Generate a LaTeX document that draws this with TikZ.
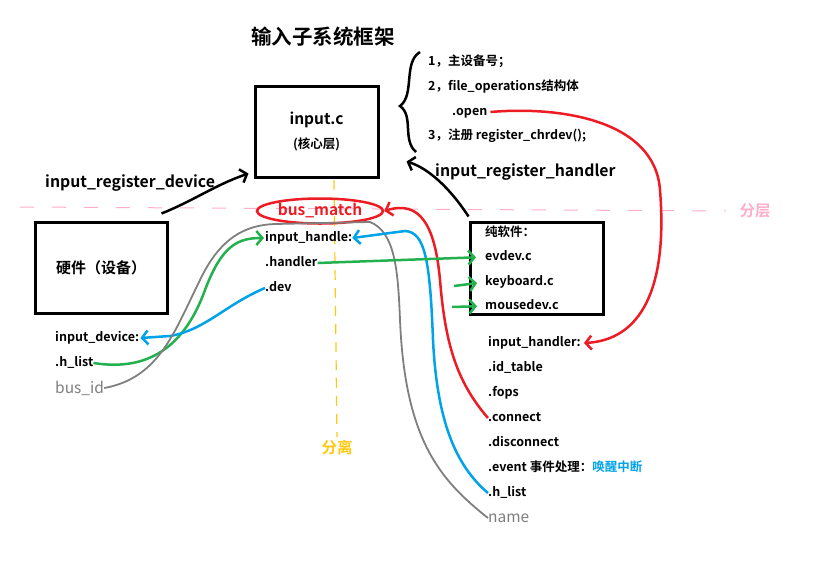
\documentclass[tikz,border=0pt]{standalone}
\usepackage{fontspec}
\setmainfont{Noto Sans CJK SC}[BoldFont={Noto Sans CJK SC Bold}]
\usetikzlibrary{arrows.meta,positioning,shapes.geometric}
\definecolor{pred}{RGB}{237,28,36}
\definecolor{pgreen}{RGB}{34,177,76}
\definecolor{pblue}{RGB}{0,162,232}
\definecolor{pgray}{RGB}{127,127,127}
\definecolor{ppink}{RGB}{255,174,201}
\definecolor{pyellow}{RGB}{255,201,14}

\begin{document}
\begin{tikzpicture}[
  x=1pt, y=-1pt,
  node distance=25pt,
  box/.style={draw, line width=3pt, align=center},
  lbl/.style={font=\bfseries\fontsize{12.5}{14}\selectfont, anchor=west, inner sep=0pt, text height=9pt, text depth=3pt},
  biglbl/.style={font=\bfseries\fontsize{15.8}{18}\selectfont, anchor=west, inner sep=0pt},
  graylbl/.style={font=\fontsize{15.5}{17}\selectfont, text=pgray, anchor=west, inner sep=0pt},
  arr/.style={-{Straight Barb[length=6pt, width=14pt]}, line width=2.5pt},
  wire/.style={line width=2.5pt}
]
\useasboundingbox (0,0) rectangle (813,563);

% title and core layer
\node[font=\bfseries\fontsize{20.5}{22}\selectfont] (title) at (323,37) {输入子系统框架};
\node[box, minimum width=123pt, minimum height=91pt] (core) at (316.5,131.5)
  {\fontsize{15.5}{17}\selectfont\bfseries input.c\\[8pt]{\fontsize{12.5}{14}\selectfont\bfseries (核心层)}};

% char device notes
\draw[line width=2.5pt] (420,52) .. controls (403,62) and (415,95) .. (400,106)
  .. controls (414,116) and (402,140) .. (416,152);
\node[lbl] (major) at (428,62) {1，主设备号；};
\node[lbl, below=of major.west, anchor=west] (fops0) {2，file\_operations结构体};
\node[lbl, below=of fops0.west, anchor=west, xshift=24pt] (open) {.open};
\node[lbl, below=of fops0.west, anchor=west, yshift=-24pt] (chrdev) {3，注册 register\_chrdev();};

% layering and separation
\coordinate (layL) at (20,207);
\node[font=\bfseries\fontsize{15.5}{17}\selectfont, text=ppink] (lay) at (755,211) {分层};
\draw[ppink, line width=1pt, dash pattern=on 14pt off 18pt, shorten >=10pt] (layL) -- (lay.west);
\coordinate (sepTop) at (334,180);
\node[font=\bfseries\fontsize{15.5}{17}\selectfont, text=pyellow] (sep) at (337,448) {分离};
\draw[pyellow, line width=1.2pt, dash pattern=on 10pt off 8pt] (sepTop) -- (sep.north);

\node[biglbl] (regdev) at (45,183) {input\_register\_device};
\node[biglbl] (reghdl) at (435,172) {input\_register\_handler};

% hardware side
\node[box, minimum width=132pt, minimum height=91pt, font=\bfseries\fontsize{15}{17}\selectfont] (hw) at (101,267.5) {硬件（设备）};
\node[lbl] (idev) at (55,338) {input\_device:};
\node[lbl, below=of idev.west, anchor=west] (hlist) {.h\_list};
\node[graylbl, below=of hlist.west, anchor=west] (busid) {bus\_id};

% input_handle
\node[ellipse, draw=pred, line width=2.5pt, minimum width=126pt, minimum height=25pt, inner sep=0pt,
  text=pred, font=\bfseries\fontsize{15.5}{17}\selectfont] (bm) at (320,211) {bus\_match};
\node[lbl] (ih) at (265,238) {input\_handle:};
\node[lbl, below=of ih.west, anchor=west] (handler) {.handler};
\node[lbl, below=of handler.west, anchor=west] (dev) {.dev};

% pure software
\node[box, minimum width=133pt, minimum height=92pt] (soft) at (536.5,268) {};
\node[lbl] (pure) at (485,233) {纯软件：};
\node[lbl, below=24pt of pure.west, anchor=west] (evdev) {evdev.c};
\node[lbl, below=of evdev.west, anchor=west] (keyboard) {keyboard.c};
\node[lbl, below=24pt of keyboard.west, anchor=west] (mousedev) {mousedev.c};

% input_handler
\node[lbl] (ihr) at (488,343) {input\_handler:};
\node[lbl, below=of ihr.west, anchor=west] (idtable) {.id\_table};
\node[lbl, below=of idtable.west, anchor=west] (fops) {.fops};
\node[lbl, below=of fops.west, anchor=west] (connect) {.connect};
\node[lbl, below=of connect.west, anchor=west] (disconnect) {.disconnect};
\node[lbl, below=of disconnect.west, anchor=west] (event) {.event 事件处理：\textcolor{pblue}{唤醒中断}};
\node[lbl, below=of event.west, anchor=west] (hlistr) {.h\_list};
\node[graylbl, below=of hlistr.west, anchor=west] (name) {name};

% registration arrows
\draw[arr] ([shift={(-7pt,7pt)}]hw.north east) .. controls (195,200) and (215,185) .. ([shift={(-5pt,5pt)}]core.south west);
\draw[arr] ([yshift=4pt]soft.north west) .. controls (450,188) and (428,168) .. ([shift={(27pt,-30pt)}]core.east);

% connections
\draw[arr, pgreen] (hlist.east) .. controls (150,372) and (185,345) .. (205,290)
  .. controls (222,245) and (238,238) .. ([xshift=-1pt]ih.west);
\draw[arr, pblue] (dev.west) .. controls (225,305) and (205,330) .. (170,336) -- ([xshift=1pt]idev.east);
\draw[wire, pgray, line width=1.8pt] (busid.east) .. controls (160,378) and (175,330) .. (200,280)
  .. controls (220,238) and (245,225) .. (275,224) -- (370,222)
  .. controls (395,232) and (398,270) .. (400,320)
  .. controls (405,440) and (440,480) .. (name.west);
\draw[arr, pblue] (hlistr.west) .. controls (455,465) and (437,420) .. (433,340)
  .. controls (430,260) and (425,232) .. (405,231) -- (ih.east);
\draw[arr, pred] (connect.west) .. controls (455,380) and (445,340) .. (440,280)
  .. controls (435,225) and (420,200) .. (bm.east);
\draw[arr, pred] ([xshift=3pt]open.east) .. controls (560,106) and (655,120) .. (660,190)
  .. controls (668,290) and (640,340) .. ([xshift=3pt]ihr.east);
\draw[arr, pgreen, shorten >=9pt] (handler.east) -- (evdev.west);
\coordinate (kbin) at (454,286);
\coordinate (msin) at (452,307);
\draw[arr, pgreen, shorten >=8pt] (kbin) -- (keyboard.west);
\draw[arr, pgreen, shorten >=8pt] (msin) -- (mousedev.west);
\end{tikzpicture}
\end{document}
